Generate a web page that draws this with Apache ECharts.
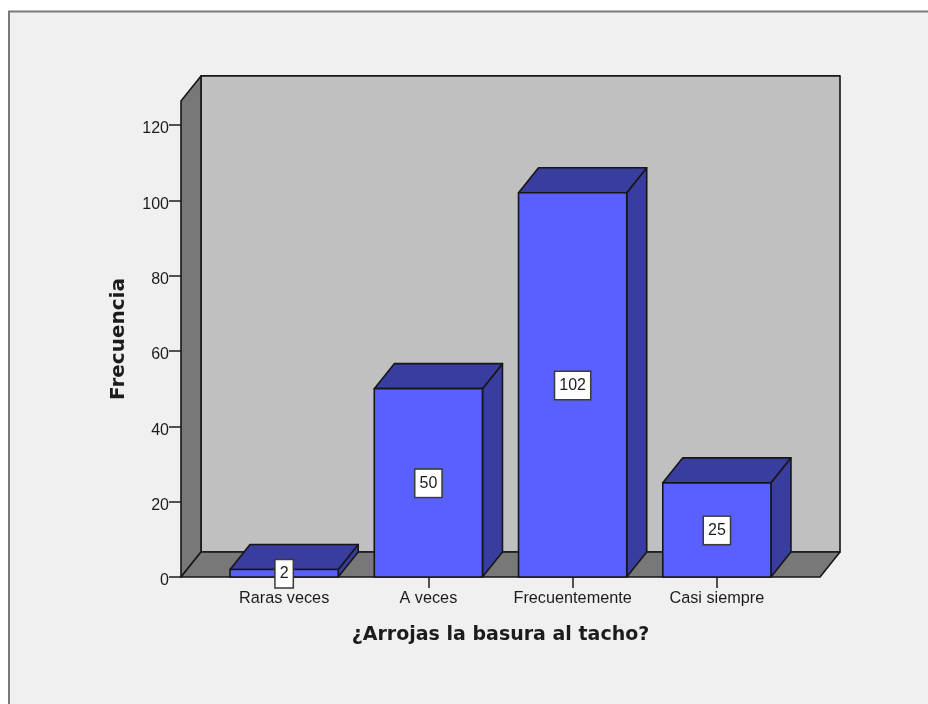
<!DOCTYPE html>
<html>
<head>
<meta charset="utf-8">
<style>html,body{margin:0;padding:0;background:#fff}#c{width:928px;height:704px}</style>
<script src="https://cdn.jsdelivr.net/npm/echarts@6/dist/echarts.min.js"></script>
</head>
<body>
<div id="c"></div>
<script>
const categories = ['Raras veces', 'A veces', 'Frecuentemente', 'Casi siempre'];
const frecuencia = [2, 50, 102, 25];
const xTitle = '¿Arrojas la basura al tacho?';
const yTitle = 'Frecuencia';
const yMax = 120;
const yInterval = 20;
const wallTopValue = 126.4;

const FONT = '"Liberation Sans", Arial, sans-serif';
const BOLD = '"DejaVu Sans", Verdana, sans-serif';
const INK = '#1c1c1c';
const DX = 20, DY = 25, OUT = 31, BAR = 0.75;
const LINE = { stroke: '#161616', lineWidth: 1.6, lineJoin: 'round' };

function poly(points, fill) {
  return { type: 'polygon', shape: { points }, style: Object.assign({ fill }, LINE) };
}

function renderWalls(params, api) {
  const cs = params.coordSys;
  const y0 = api.coord([0, 0])[1];
  const yT = api.coord([0, wallTopValue])[1];
  const xL = cs.x - OUT, xR = cs.x + cs.width + OUT;
  return { type: 'group', children: [
    poly([[xL + DX, y0 - DY], [xR + DX, y0 - DY], [xR + DX, yT - DY], [xL + DX, yT - DY]], '#c0c0c0'),
    poly([[xL, y0], [xL + DX, y0 - DY], [xL + DX, yT - DY], [xL, yT]], '#787878'),
    poly([[xL, y0], [xR, y0], [xR + DX, y0 - DY], [xL + DX, y0 - DY]], '#787878')
  ]};
}

function renderBar(params, api) {
  const top = api.coord([api.value(0), api.value(1)]);
  const base = api.coord([api.value(0), 0]);
  const w = api.size([1, 0])[0] * BAR;
  const l = top[0] - w / 2, r = top[0] + w / 2, t = top[1], b = base[1];
  return { type: 'group', children: [
    poly([[r, b], [r + DX, b - DY], [r + DX, t - DY], [r, t]], '#383d9e'),
    poly([[l, t], [r, t], [r + DX, t - DY], [l + DX, t - DY]], '#383d9e'),
    poly([[l, t], [r, t], [r, b], [l, b]], '#5a60ff'),
    { type: 'text', z2: 10, style: {
        x: top[0], y: (t + b) / 2 + 0.5, text: String(api.value(1)),
        align: 'center', verticalAlign: 'middle',
        font: '16px ' + FONT, fill: INK,
        backgroundColor: '#ffffff', borderColor: '#3a3a3a', borderWidth: 1.5,
        padding: [6, 4, 5, 4]
    } }
  ]};
}

const chart = echarts.init(document.getElementById('c'), null, { renderer: 'canvas' });
chart.setOption({
  animation: false,
  backgroundColor: '#ffffff',
  graphic: [{
    type: 'rect', silent: true, z: -10,
    shape: { x: 9, y: 11.5, width: 1000, height: 800 },
    style: { fill: '#f0f0f0', stroke: '#7a7a7a', lineWidth: 2 }
  }],
  grid: { left: 212, top: 125, width: 577, height: 452 },
  xAxis: {
    type: 'category', data: categories,
    name: xTitle, nameLocation: 'middle', nameGap: 49,
    nameTextStyle: { fontFamily: BOLD, fontSize: 19, fontWeight: 'bold', color: INK },
    axisLine: { show: false },
    axisTick: { show: true, alignWithLabel: true, length: 11, lineStyle: { color: INK, width: 1.5 } },
    axisLabel: { fontFamily: FONT, fontSize: 16.25, color: INK, margin: 14, interval: 0 },
    splitLine: { show: false }
  },
  yAxis: {
    type: 'value', min: 0, max: yMax, interval: yInterval, offset: OUT,
    name: yTitle, nameLocation: 'middle', nameGap: 52, nameRotate: 90,
    nameTextStyle: { fontFamily: BOLD, fontSize: 20, fontWeight: 'bold', color: INK, padding: [0, 0, 0, 24] },
    axisLine: { show: false },
    axisTick: { show: true, length: 12, lineStyle: { color: INK, width: 1.5 } },
    axisLabel: { fontFamily: FONT, fontSize: 16, color: INK, margin: 12, verticalAlign: 'top', lineHeight: 8 },
    splitLine: { show: false }
  },
  series: [
    { type: 'custom', name: 'walls', z: 1, silent: true, renderItem: renderWalls, data: [[0, 0]], encode: { x: 0, y: 1 }, clip: false },
    { type: 'custom', name: yTitle, z: 3, renderItem: renderBar, clip: false,
      encode: { x: 0, y: 1 },
      data: frecuencia.map((v, i) => [i, v]) }
  ]
});
</script>
</body>
</html>
